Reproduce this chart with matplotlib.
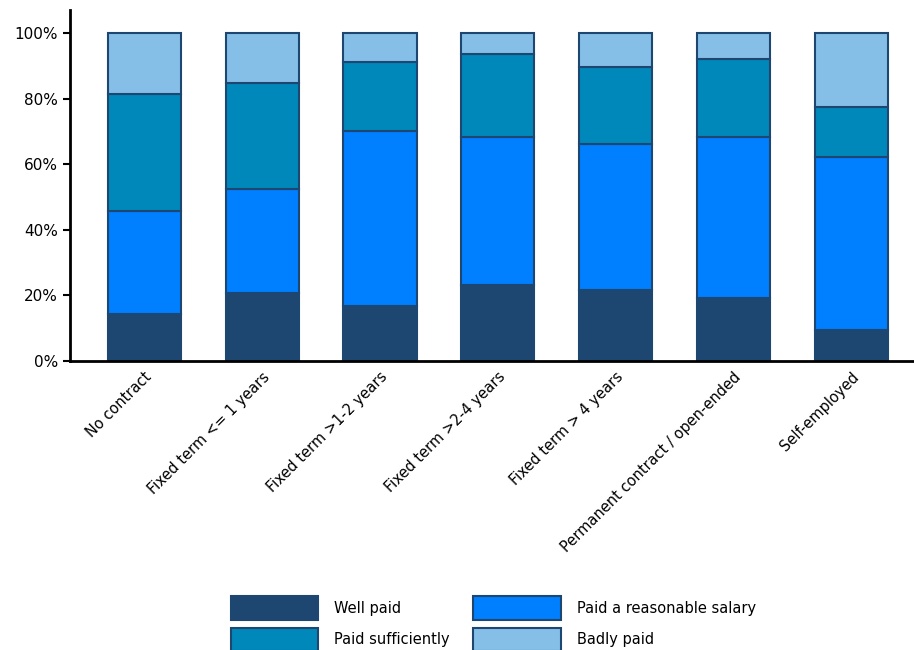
import matplotlib.pyplot as plt
import numpy as np

categories = ['No contract', 'Fixed term <= 1 years', 'Fixed term >1-2 years',
              'Fixed term >2-4 years', 'Fixed term > 4 years',
              'Permanent contract / open-ended', 'Self-employed']
well_paid = [14.3, 20.7, 16.8, 23.2, 21.6, 19.2, 9.5]
reasonable = [31.4, 31.7, 53.3, 45.1, 44.6, 49.1, 52.7]
sufficient = [35.7, 32.4, 21.1, 25.3, 23.4, 23.8, 15.2]
badly_paid = [18.6, 15.2, 8.8, 6.4, 10.4, 7.9, 22.6]

series = [('Well paid', well_paid, '#1d4770'),
          ('Paid a reasonable salary', reasonable, '#007fff'),
          ('Paid sufficiently', sufficient, '#0088bb'),
          ('Badly paid', badly_paid, '#85bfe8')]

fig = plt.figure(figsize=(9.14, 6.5), dpi=100)
ax = fig.add_axes([0.0766, 0.4446, 0.9234, 0.54])

x = np.arange(len(categories))
bottom = np.zeros(len(categories))
handles = {}
for name, vals, color in series:
    b = ax.bar(x, vals, 0.62, bottom=bottom, color=color, edgecolor='#1d4770',
               linewidth=1.5, label=name)
    handles[name] = b
    bottom += np.array(vals)

ax.set_xlim(-0.63, 6.53)
ax.set_ylim(0, 107)
ax.set_yticks([0, 20, 40, 60, 80, 100])
ax.set_yticklabels([f'{v}%' for v in [0, 20, 40, 60, 80, 100]], fontsize=11)
ax.set_xticks(x)
ax.set_xticklabels(categories, rotation=45, ha='right', rotation_mode='anchor', fontsize=10.5)
ax.tick_params(axis='x', length=0, pad=6)
ax.tick_params(axis='y', length=5, width=1.5)
for s in ['top', 'right']:
    ax.spines[s].set_visible(False)
for s in ['left', 'bottom']:
    ax.spines[s].set_linewidth(2)

# legend fills column-wise, so reorder to get rows as in the original
leg_order = ['Well paid', 'Paid sufficiently', 'Paid a reasonable salary', 'Badly paid']
fig.legend([handles[n] for n in leg_order], leg_order, ncol=2, loc='lower left',
           bbox_to_anchor=(0.238, -0.022), frameon=False, fontsize=10.5,
           handlelength=6, handleheight=2.1, handletextpad=1.1,
           columnspacing=1.6, labelspacing=0.55)

plt.savefig('out.png', dpi=100)
